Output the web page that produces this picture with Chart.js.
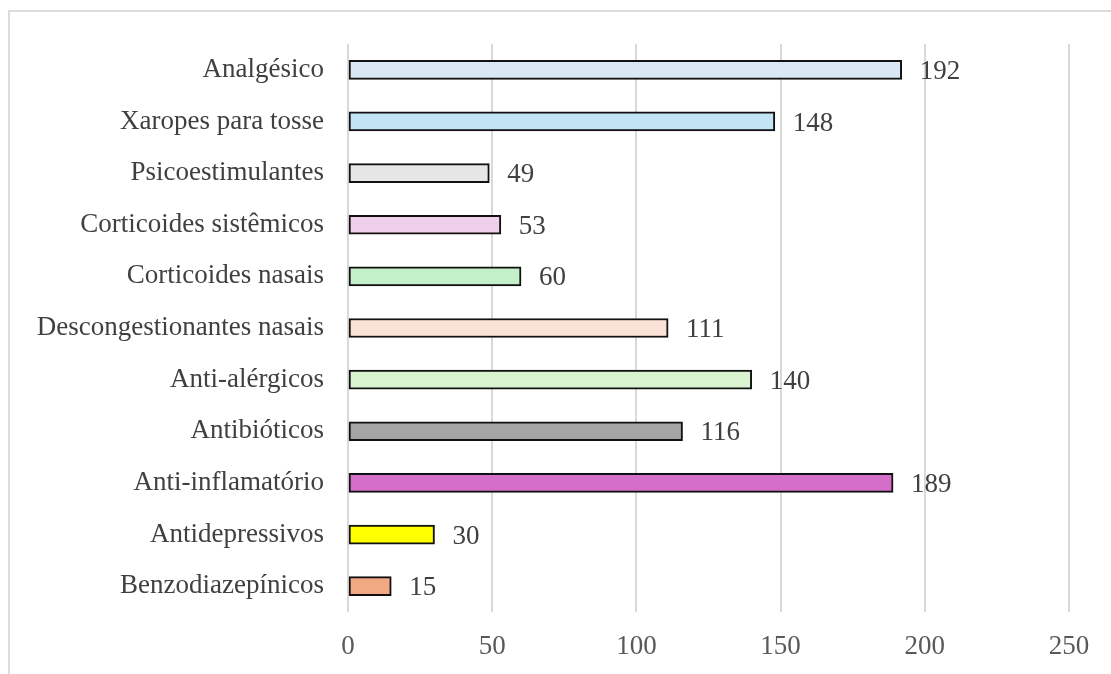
<!DOCTYPE html>
<html>
<head>
<meta charset="utf-8">
<script src="https://cdn.jsdelivr.net/npm/chart.js@4/dist/chart.umd.min.js"></script>
<style>
  html, body { margin: 0; padding: 0; background: #fff; }
  #wrap { position: relative; width: 1111px; height: 674px; overflow: hidden; }
  #frame { position: absolute; left: 8px; top: 10px; width: 1200px; height: 800px; border: 2px solid #dcdcdc; box-sizing: border-box; }
  #chart { position: absolute; left: 0; top: 0; }
</style>
</head>
<body>
<div id="wrap">
  <div id="frame"></div>
  <canvas id="chart" width="1111" height="674"></canvas>
</div>
<script>
const categories = [
  'Analgésico', 'Xaropes para tosse', 'Psicoestimulantes', 'Corticoides sistêmicos',
  'Corticoides nasais', 'Descongestionantes nasais', 'Anti-alérgicos', 'Antibióticos',
  'Anti-inflamatório', 'Antidepressivos', 'Benzodiazepínicos'
];
const counts = [192, 148, 49, 53, 60, 111, 140, 116, 189, 30, 15];
const barColors = [
  '#dae8f5', '#c2e4f5', '#e6e6e6', '#f0cfec', '#c3efc9', '#fbe2d6',
  '#d9f2d0', '#a5a5a5', '#d46ec8', '#ffff00', '#f1a983'
];
const xTicks = [0, 50, 100, 150, 200, 250];

const serif = "'Liberation Serif', 'DejaVu Serif', serif";

// value labels to the right of each bar
const valueLabels = {
  id: 'valueLabels',
  afterDatasetsDraw(chart) {
    const ctx = chart.ctx;
    const meta = chart.getDatasetMeta(0);
    ctx.save();
    ctx.font = '27px ' + serif;
    ctx.fillStyle = '#404040';
    ctx.textAlign = 'left';
    ctx.textBaseline = 'middle';
    meta.data.forEach((bar, i) => {
      ctx.fillText(String(counts[i]), bar.x + 18, bar.y + 2);
    });
    ctx.restore();
  }
};

new Chart(document.getElementById('chart'), {
  type: 'bar',
  data: {
    labels: categories,
    datasets: [{
      data: counts,
      backgroundColor: barColors,
      borderColor: '#111111',
      borderWidth: 2,
      borderSkipped: false,
      barThickness: 19
    }]
  },
  options: {
    indexAxis: 'y',
    responsive: false,
    animation: false,
    layout: { padding: { left: 0, top: 44, right: 42, bottom: 0 } },
    plugins: { legend: { display: false }, tooltip: { enabled: false } },
    scales: {
      x: {
        min: 0, max: 250,
        afterBuildTicks: s => { s.ticks = xTicks.map(v => ({ value: v })); },
        afterFit: s => { s.height = 62; },
        grid: { color: '#d9d9d9', lineWidth: 2, drawTicks: false },
        border: { display: false },
        ticks: { color: '#595959', font: { family: serif, size: 27 }, padding: 19 }
      },
      y: {
        afterFit: s => { s.width = 348; },
        grid: { display: false },
        border: { display: false },
        ticks: { color: '#404040', font: { family: serif, size: 27 }, padding: 16 }
      }
    }
  },
  plugins: [valueLabels]
});
</script>
</body>
</html>
